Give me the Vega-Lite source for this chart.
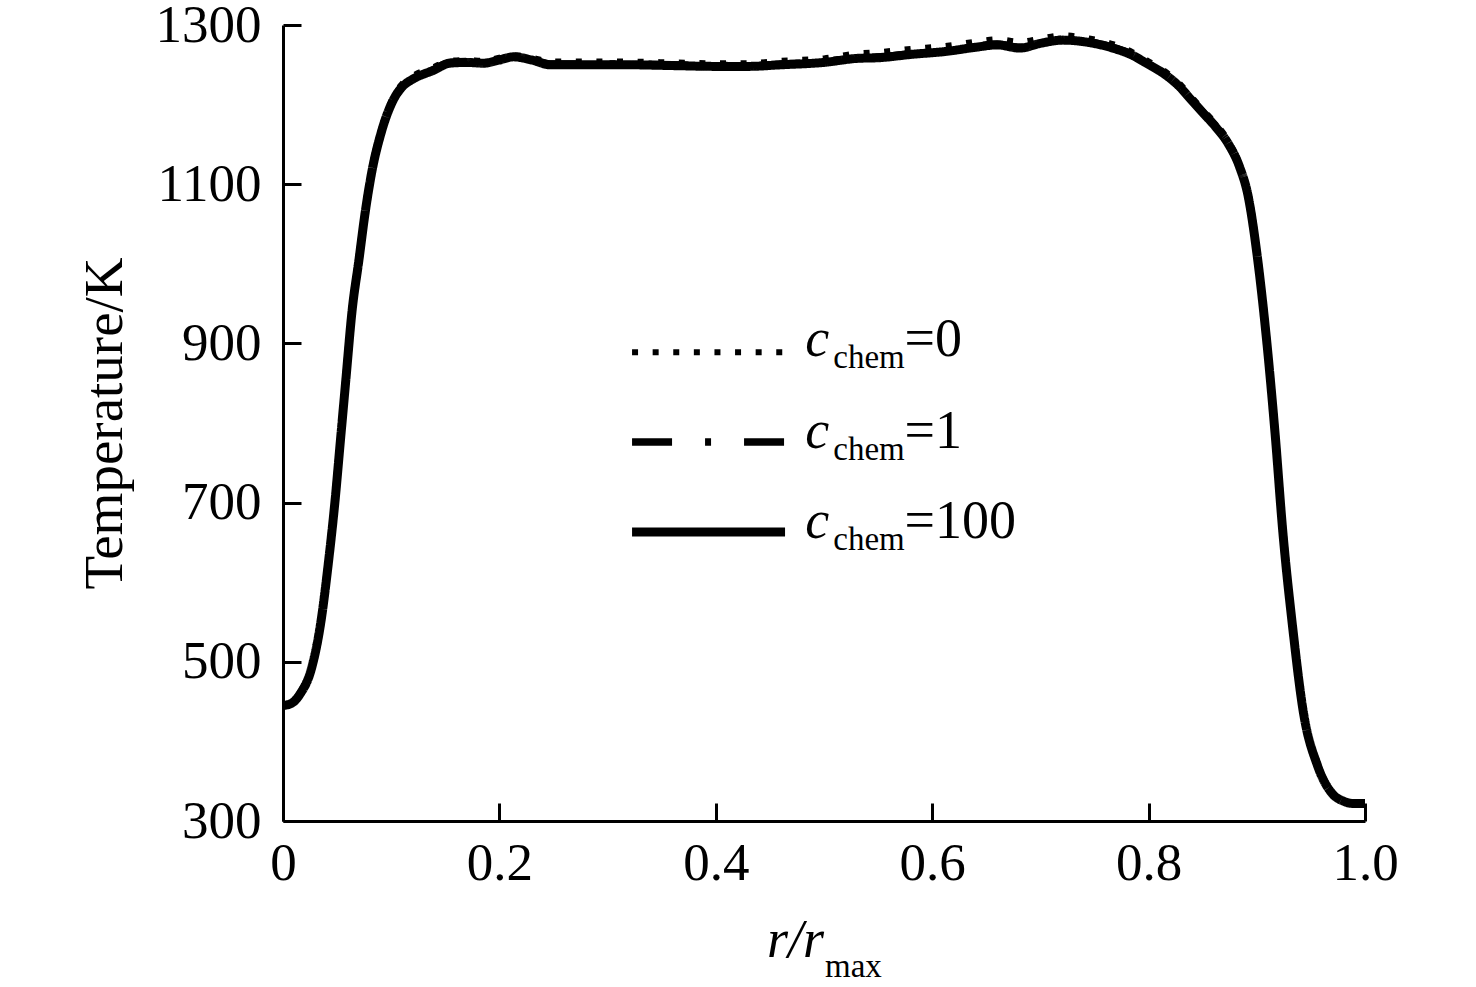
{
  "$schema": "https://vega.github.io/schema/vega-lite/v6.json",
  "width": 1082,
  "height": 796,
  "autosize": {"type": "none"},
  "padding": {"left": 283, "top": 25, "right": 111, "bottom": 166},
  "background": "white",
  "config": {
    "view": {"stroke": null},
    "font": "Liberation Serif",
    "axis": {
      "grid": false,
      "domainColor": "black",
      "domainWidth": 3,
      "tickColor": "black",
      "tickWidth": 3,
      "tickSize": -18,
      "labelFont": "Liberation Serif",
      "labelFontSize": 53,
      "labelColor": "black",
      "titleFont": "Liberation Serif",
      "titleFontWeight": "normal",
      "titleColor": "black"
    }
  },
  "datasets": {
    "curves": [
      {"r": 0.000, "T": 445, "c": "100"}, {"r": 0.008, "T": 448, "c": "100"}, {"r": 0.016, "T": 460, "c": "100"},
      {"r": 0.026, "T": 490, "c": "100"}, {"r": 0.035, "T": 550, "c": "100"}, {"r": 0.042, "T": 625, "c": "100"},
      {"r": 0.048, "T": 701, "c": "100"}, {"r": 0.053, "T": 777, "c": "100"}, {"r": 0.058, "T": 853, "c": "100"},
      {"r": 0.064, "T": 943, "c": "100"}, {"r": 0.070, "T": 1003, "c": "100"}, {"r": 0.076, "T": 1065, "c": "100"},
      {"r": 0.082, "T": 1115, "c": "100"}, {"r": 0.091, "T": 1166, "c": "100"}, {"r": 0.102, "T": 1206, "c": "100"},
      {"r": 0.110, "T": 1222, "c": "100"}, {"r": 0.120, "T": 1232, "c": "100"}, {"r": 0.139, "T": 1243, "c": "100"},
      {"r": 0.154, "T": 1252, "c": "100"}, {"r": 0.170, "T": 1253, "c": "100"}, {"r": 0.185, "T": 1252, "c": "100"},
      {"r": 0.200, "T": 1256, "c": "100"}, {"r": 0.213, "T": 1260, "c": "100"}, {"r": 0.230, "T": 1256, "c": "100"},
      {"r": 0.247, "T": 1250, "c": "100"}, {"r": 0.280, "T": 1250, "c": "100"}, {"r": 0.320, "T": 1250, "c": "100"},
      {"r": 0.360, "T": 1249, "c": "100"}, {"r": 0.400, "T": 1248, "c": "100"}, {"r": 0.430, "T": 1248, "c": "100"},
      {"r": 0.460, "T": 1250, "c": "100"}, {"r": 0.500, "T": 1253, "c": "100"}, {"r": 0.530, "T": 1258, "c": "100"},
      {"r": 0.552, "T": 1259, "c": "100"}, {"r": 0.580, "T": 1263, "c": "100"}, {"r": 0.614, "T": 1267, "c": "100"},
      {"r": 0.640, "T": 1272, "c": "100"}, {"r": 0.660, "T": 1275, "c": "100"}, {"r": 0.681, "T": 1271, "c": "100"},
      {"r": 0.700, "T": 1277, "c": "100"}, {"r": 0.721, "T": 1281, "c": "100"}, {"r": 0.745, "T": 1278, "c": "100"},
      {"r": 0.767, "T": 1271, "c": "100"}, {"r": 0.785, "T": 1262, "c": "100"}, {"r": 0.798, "T": 1252, "c": "100"},
      {"r": 0.815, "T": 1238, "c": "100"}, {"r": 0.829, "T": 1222, "c": "100"}, {"r": 0.840, "T": 1205, "c": "100"},
      {"r": 0.850, "T": 1190, "c": "100"}, {"r": 0.862, "T": 1172, "c": "100"}, {"r": 0.874, "T": 1150, "c": "100"},
      {"r": 0.884, "T": 1122, "c": "100"}, {"r": 0.892, "T": 1085, "c": "100"}, {"r": 0.900, "T": 1014, "c": "100"},
      {"r": 0.909, "T": 905, "c": "100"}, {"r": 0.917, "T": 785, "c": "100"}, {"r": 0.924, "T": 664, "c": "100"},
      {"r": 0.933, "T": 545, "c": "100"}, {"r": 0.943, "T": 437, "c": "100"}, {"r": 0.956, "T": 370, "c": "100"},
      {"r": 0.970, "T": 334, "c": "100"}, {"r": 0.980, "T": 325, "c": "100"}, {"r": 0.989, "T": 322, "c": "100"},
      {"r": 1.000, "T": 322, "c": "100"},

      {"r": 0.000, "T": 445, "c": "1"}, {"r": 0.008, "T": 448, "c": "1"}, {"r": 0.016, "T": 461, "c": "1"},
      {"r": 0.026, "T": 491, "c": "1"}, {"r": 0.035, "T": 551, "c": "1"}, {"r": 0.042, "T": 626, "c": "1"},
      {"r": 0.048, "T": 702, "c": "1"}, {"r": 0.053, "T": 778, "c": "1"}, {"r": 0.058, "T": 854, "c": "1"},
      {"r": 0.064, "T": 944, "c": "1"}, {"r": 0.070, "T": 1004, "c": "1"}, {"r": 0.076, "T": 1066, "c": "1"},
      {"r": 0.082, "T": 1116, "c": "1"}, {"r": 0.091, "T": 1167, "c": "1"}, {"r": 0.102, "T": 1207, "c": "1"},
      {"r": 0.110, "T": 1223, "c": "1"}, {"r": 0.120, "T": 1233, "c": "1"}, {"r": 0.139, "T": 1244, "c": "1"},
      {"r": 0.154, "T": 1253, "c": "1"}, {"r": 0.170, "T": 1254, "c": "1"}, {"r": 0.185, "T": 1253, "c": "1"},
      {"r": 0.200, "T": 1257, "c": "1"}, {"r": 0.213, "T": 1261, "c": "1"}, {"r": 0.230, "T": 1257, "c": "1"},
      {"r": 0.247, "T": 1251, "c": "1"}, {"r": 0.280, "T": 1251, "c": "1"}, {"r": 0.320, "T": 1251, "c": "1"},
      {"r": 0.360, "T": 1250, "c": "1"}, {"r": 0.400, "T": 1249, "c": "1"}, {"r": 0.430, "T": 1249, "c": "1"},
      {"r": 0.460, "T": 1251, "c": "1"}, {"r": 0.500, "T": 1254, "c": "1"}, {"r": 0.530, "T": 1259, "c": "1"},
      {"r": 0.552, "T": 1260, "c": "1"}, {"r": 0.580, "T": 1264, "c": "1"}, {"r": 0.614, "T": 1268, "c": "1"},
      {"r": 0.640, "T": 1273, "c": "1"}, {"r": 0.660, "T": 1276, "c": "1"}, {"r": 0.681, "T": 1272, "c": "1"},
      {"r": 0.700, "T": 1278, "c": "1"}, {"r": 0.721, "T": 1282, "c": "1"}, {"r": 0.745, "T": 1279, "c": "1"},
      {"r": 0.767, "T": 1272, "c": "1"}, {"r": 0.785, "T": 1263, "c": "1"}, {"r": 0.798, "T": 1253, "c": "1"},
      {"r": 0.815, "T": 1239, "c": "1"}, {"r": 0.829, "T": 1223, "c": "1"}, {"r": 0.840, "T": 1206, "c": "1"},
      {"r": 0.850, "T": 1191, "c": "1"}, {"r": 0.862, "T": 1173, "c": "1"}, {"r": 0.874, "T": 1151, "c": "1"},
      {"r": 0.884, "T": 1123, "c": "1"}, {"r": 0.892, "T": 1086, "c": "1"}, {"r": 0.900, "T": 1015, "c": "1"},
      {"r": 0.909, "T": 906, "c": "1"}, {"r": 0.917, "T": 786, "c": "1"}, {"r": 0.924, "T": 665, "c": "1"},
      {"r": 0.933, "T": 546, "c": "1"}, {"r": 0.943, "T": 438, "c": "1"}, {"r": 0.956, "T": 371, "c": "1"},
      {"r": 0.970, "T": 334, "c": "1"}, {"r": 0.980, "T": 325, "c": "1"}, {"r": 0.989, "T": 322, "c": "1"},
      {"r": 1.000, "T": 322, "c": "1"},

      {"r": 0.000, "T": 446, "c": "0"}, {"r": 0.008, "T": 449, "c": "0"}, {"r": 0.016, "T": 462, "c": "0"},
      {"r": 0.026, "T": 493, "c": "0"}, {"r": 0.035, "T": 553, "c": "0"}, {"r": 0.042, "T": 628, "c": "0"},
      {"r": 0.048, "T": 704, "c": "0"}, {"r": 0.053, "T": 780, "c": "0"}, {"r": 0.058, "T": 857, "c": "0"},
      {"r": 0.064, "T": 947, "c": "0"}, {"r": 0.070, "T": 1007, "c": "0"}, {"r": 0.076, "T": 1069, "c": "0"},
      {"r": 0.082, "T": 1119, "c": "0"}, {"r": 0.091, "T": 1170, "c": "0"}, {"r": 0.102, "T": 1210, "c": "0"},
      {"r": 0.110, "T": 1226, "c": "0"}, {"r": 0.120, "T": 1236, "c": "0"}, {"r": 0.139, "T": 1247, "c": "0"},
      {"r": 0.154, "T": 1255, "c": "0"}, {"r": 0.170, "T": 1256, "c": "0"}, {"r": 0.185, "T": 1255, "c": "0"},
      {"r": 0.200, "T": 1259, "c": "0"}, {"r": 0.213, "T": 1262, "c": "0"}, {"r": 0.230, "T": 1259, "c": "0"},
      {"r": 0.247, "T": 1254, "c": "0"}, {"r": 0.280, "T": 1254, "c": "0"}, {"r": 0.320, "T": 1254, "c": "0"},
      {"r": 0.360, "T": 1253, "c": "0"}, {"r": 0.400, "T": 1252, "c": "0"}, {"r": 0.430, "T": 1252, "c": "0"},
      {"r": 0.460, "T": 1255, "c": "0"}, {"r": 0.500, "T": 1258, "c": "0"}, {"r": 0.530, "T": 1264, "c": "0"},
      {"r": 0.552, "T": 1266, "c": "0"}, {"r": 0.580, "T": 1270, "c": "0"}, {"r": 0.614, "T": 1274, "c": "0"},
      {"r": 0.640, "T": 1279, "c": "0"}, {"r": 0.660, "T": 1282, "c": "0"}, {"r": 0.681, "T": 1279, "c": "0"},
      {"r": 0.700, "T": 1283, "c": "0"}, {"r": 0.721, "T": 1287, "c": "0"}, {"r": 0.745, "T": 1283, "c": "0"},
      {"r": 0.767, "T": 1276, "c": "0"}, {"r": 0.785, "T": 1266, "c": "0"}, {"r": 0.798, "T": 1256, "c": "0"},
      {"r": 0.815, "T": 1242, "c": "0"}, {"r": 0.829, "T": 1226, "c": "0"}, {"r": 0.840, "T": 1209, "c": "0"},
      {"r": 0.850, "T": 1194, "c": "0"}, {"r": 0.862, "T": 1176, "c": "0"}, {"r": 0.874, "T": 1154, "c": "0"},
      {"r": 0.884, "T": 1125, "c": "0"}, {"r": 0.892, "T": 1089, "c": "0"}, {"r": 0.900, "T": 1018, "c": "0"},
      {"r": 0.909, "T": 909, "c": "0"}, {"r": 0.917, "T": 789, "c": "0"}, {"r": 0.924, "T": 668, "c": "0"},
      {"r": 0.933, "T": 549, "c": "0"}, {"r": 0.943, "T": 440, "c": "0"}, {"r": 0.956, "T": 372, "c": "0"},
      {"r": 0.970, "T": 335, "c": "0"}, {"r": 0.980, "T": 326, "c": "0"}, {"r": 0.989, "T": 323, "c": "0"},
      {"r": 1.000, "T": 323, "c": "0"}
    ],
    "legend": [
      {"c": "0", "x1": 0.3226, "x2": 0.464, "yl": 889, "yb": 884, "ys": 869, "num": "=0"},
      {"c": "1", "x1": 0.3226, "x2": 0.464, "yl": 776, "yb": 769, "ys": 754, "num": "=1"},
      {"c": "100", "x1": 0.3226, "x2": 0.464, "yl": 663, "yb": 656, "ys": 641, "num": "=100"}
    ],
    "xtitle": [
      {"x": 0.4473, "y": 129, "t": "r/r", "part": "main"},
      {"x": 0.5009, "y": 104, "t": "max", "part": "sub"}
    ]
  },
  "layer": [
    {
      "data": {"name": "curves"},
      "mark": {"type": "line", "interpolate": "monotone", "strokeCap": "butt", "color": "black"},
      "encoding": {
        "x": {
          "field": "r",
          "type": "quantitative",
          "scale": {"domain": [0, 1], "nice": false, "zero": false},
          "axis": {
            "title": null,
            "values": [0, 0.2, 0.4, 0.6, 0.8, 1.0],
            "labelExpr": "datum.value == 0 ? '0' : format(datum.value, '.1f')",
            "labelPadding": 34,
            "labelFlush": false
          }
        },
        "y": {
          "field": "T",
          "type": "quantitative",
          "scale": {"domain": [300, 1300], "nice": false, "zero": false},
          "axis": {
            "title": "Temperature/K",
            "titleFontSize": 55,
            "titlePadding": 22,
            "values": [300, 500, 700, 900, 1100, 1300],
            "format": "d",
            "labelPadding": 40
          }
        },
        "strokeDash": {
          "field": "c",
          "type": "nominal",
          "scale": {"domain": ["0", "1", "100"], "range": [[6, 14.6], [40, 33, 6, 33], [1, 0]]},
          "legend": null
        },
        "strokeWidth": {
          "field": "c",
          "type": "nominal",
          "scale": {"domain": ["0", "1", "100"], "range": [6, 9, 9]},
          "legend": null
        },
        "order": {"field": "r", "type": "quantitative"}
      }
    },
    {
      "data": {"name": "legend"},
      "mark": {"type": "rule", "strokeCap": "butt", "color": "black"},
      "encoding": {
        "x": {"field": "x1", "type": "quantitative"},
        "x2": {"field": "x2"},
        "y": {"field": "yl", "type": "quantitative"},
        "strokeDash": {"field": "c", "type": "nominal", "legend": null},
        "strokeWidth": {"field": "c", "type": "nominal", "legend": null}
      }
    },
    {
      "data": {"name": "legend"},
      "transform": [{"calculate": "0.4827", "as": "xc"}],
      "mark": {"type": "text", "text": "c", "align": "left", "baseline": "alphabetic", "fontSize": 54, "fontStyle": "italic", "font": "Liberation Serif", "color": "black"},
      "encoding": {
        "x": {"field": "xc", "type": "quantitative"},
        "y": {"field": "yb", "type": "quantitative"}
      }
    },
    {
      "data": {"name": "legend"},
      "transform": [{"calculate": "0.5086", "as": "xs"}],
      "mark": {"type": "text", "text": "chem", "align": "left", "baseline": "alphabetic", "fontSize": 33, "font": "Liberation Serif", "color": "black"},
      "encoding": {
        "x": {"field": "xs", "type": "quantitative"},
        "y": {"field": "ys", "type": "quantitative"}
      }
    },
    {
      "data": {"name": "legend"},
      "transform": [{"calculate": "0.5745", "as": "xn"}],
      "mark": {"type": "text", "align": "left", "baseline": "alphabetic", "fontSize": 54, "font": "Liberation Serif", "color": "black"},
      "encoding": {
        "x": {"field": "xn", "type": "quantitative"},
        "y": {"field": "yb", "type": "quantitative"},
        "text": {"field": "num"}
      }
    },
    {
      "data": {"name": "xtitle"},
      "transform": [{"filter": "datum.part == 'main'"}],
      "mark": {"type": "text", "align": "left", "baseline": "alphabetic", "fontSize": 54, "fontStyle": "italic", "font": "Liberation Serif", "color": "black"},
      "encoding": {
        "x": {"field": "x", "type": "quantitative"},
        "y": {"field": "y", "type": "quantitative"},
        "text": {"field": "t"}
      }
    },
    {
      "data": {"name": "xtitle"},
      "transform": [{"filter": "datum.part == 'sub'"}],
      "mark": {"type": "text", "align": "left", "baseline": "alphabetic", "fontSize": 33, "font": "Liberation Serif", "color": "black"},
      "encoding": {
        "x": {"field": "x", "type": "quantitative"},
        "y": {"field": "y", "type": "quantitative"},
        "text": {"field": "t"}
      }
    }
  ]
}
